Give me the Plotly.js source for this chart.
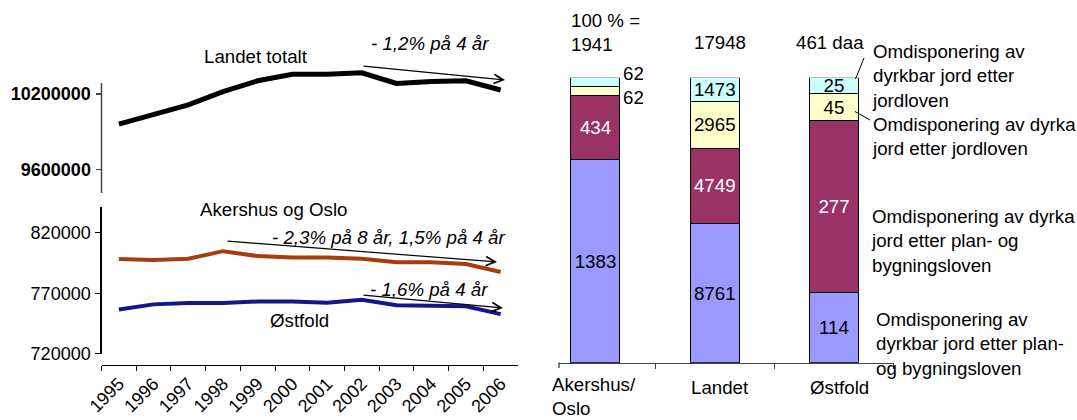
<!DOCTYPE html>
<html><head><meta charset="utf-8">
<script src="https://cdn.plot.ly/plotly-3.0.1.min.js"></script>
<style>html,body{margin:0;padding:0;background:#fff}#chart{width:1077px;height:420px}</style>
</head><body><div id="chart"></div>
<script>
// ---------- data ----------
const years = ['1995','1996','1997','1998','1999','2000','2001','2002','2003','2004','2005','2006'];
const landetTotalt = [9960500,10039500,10113200,10218400,10305300,10357900,10357900,10368400,10284200,10300000,10305300,10231600];
const akershusOslo = [798400,797600,798600,804900,800800,799700,799700,798600,795700,795700,794300,787600];
const ostfold = [756500,760800,761900,761900,763200,763200,762100,764600,760000,759200,759200,752700];
const topTicks = [9600000, 10200000];
const bottomTicks = [720000, 770000, 820000];

const regions = ['Akershus/Oslo','Landet','Østfold'];
const regionLabels = ['Akershus/<br>Oslo','Landet','Østfold'];
const dyrkbarPBL = [1383, 8761, 114];   // bottom, blue
const dyrkaPBL   = [434, 4749, 277];    // purple
const dyrkaJL    = [62, 2965, 45];      // yellow
const dyrkbarJL  = [62, 1473, 25];      // cyan, top
const seriesNames = [
  'Omdisponering av<br>dyrkbar jord etter plan-<br>og bygningsloven',
  'Omdisponering av dyrka<br>jord etter plan- og<br>bygningsloven',
  'Omdisponering av dyrka<br>jord etter jordloven',
  'Omdisponering av<br>dyrkbar jord etter<br>jordloven'
];
const unit = 'daa';

// ---------- helpers ----------
const W = 1077, H = 420;
const px = x => x / W;
const py = y => 1 - y / H;
const FONT = 'Liberation Sans, Arial, Helvetica, sans-serif';
const F = 18;      // tick labels
const FT = 18.7;   // other text

const series = [dyrkbarPBL, dyrkaPBL, dyrkaJL, dyrkbarJL];
const colors = ['#9999FF', '#993366', '#FFFFCC', '#CCFFFF'];
const txtColors = ['#000000', '#FFFFFF', '#000000', '#000000'];
const totals = regions.map((_, i) => series.reduce((s, a) => s + a[i], 0));
const share = (a, i) => a[i] / totals[i] * 100;

const traces = [
  {x: years, y: landetTotalt, type: 'scatter', mode: 'lines', xaxis: 'x', yaxis: 'y',
   line: {color: '#000000', width: 5}, hoverinfo: 'skip'},
  {x: years, y: akershusOslo, type: 'scatter', mode: 'lines', xaxis: 'x2', yaxis: 'y2',
   line: {color: '#A83C0C', width: 4}, hoverinfo: 'skip'},
  {x: years, y: ostfold, type: 'scatter', mode: 'lines', xaxis: 'x2', yaxis: 'y2',
   line: {color: '#16168C', width: 4}, hoverinfo: 'skip'}
];

series.forEach((arr, k) => {
  traces.push({
    x: regions, y: arr, type: 'bar', xaxis: 'x3', yaxis: 'y3',
    marker: {color: colors[k], line: {color: '#000000', width: 1}},
    text: arr.map((v, i) => share(arr, i) > 5 ? String(v) : ''),
    textposition: 'inside', insidetextanchor: 'middle', textangle: 0,
    constraintext: 'none',
    textfont: {family: FONT, size: FT, color: txtColors[k]},
    hoverinfo: 'skip'
  });
});

const annotations = [];
const txt = (text, x, y, opts = {}) => annotations.push(Object.assign({
  text, x: px(x), y: py(y), xref: 'paper', yref: 'paper', showarrow: false,
  font: {family: FONT, size: FT, color: '#000'}, xanchor: 'center', yanchor: 'middle'
}, opts));
const arrow = (x0, y0, x1, y1) => annotations.push({
  text: '', x: px(x1), y: py(y1), xref: 'paper', yref: 'paper',
  ax: x0 - x1, ay: y0 - y1, axref: 'pixel', ayref: 'pixel',
  showarrow: true, arrowhead: 5, arrowsize: 1.5, arrowwidth: 1.2, arrowcolor: '#000', standoff: 0
});
const ital = {font: {family: FONT, size: FT, color: '#000', style: 'italic'}};

// left panel labels
txt('Landet totalt', 256, 57);
txt('- 1,2% på 4 år', 430, 44, ital);
arrow(362, 66, 505, 80);
txt('Akershus og Oslo', 274, 209);
txt('- 2,3% på 8 år, 1,5% på 4 år', 388, 237, ital);
arrow(226, 241, 497, 262);
txt('- 1,6% på 4 år', 429, 289, ital);
arrow(362, 295, 503, 308);
txt('Østfold', 299, 320);

// bar header totals
const headShift = [-26.5, -23, -40];
regions.forEach((r, i) => {
  annotations.push({
    text: (i === 0 ? '100 % =<br>' : '') + totals[i] + (i === regions.length - 1 ? ' ' + unit : ''),
    x: r, xref: 'x3', y: py(i === 0 ? 33 : 43), yref: 'paper',
    xanchor: 'left', yanchor: 'middle', align: 'left', xshift: headShift[i],
    showarrow: false, font: {family: FONT, size: FT, color: '#000'}
  });
});

// small segment labels placed outside right of bar
const smallShift = [0, 0, -6, 9];
regions.forEach((r, i) => {
  let cum = 0;
  series.forEach((arr, k) => {
    const s = share(arr, i);
    if (s <= 5) {
      annotations.push({
        text: String(arr[i]), x: r, xref: 'x3', y: cum + s / 2, yref: 'y3',
        xanchor: 'left', yanchor: 'middle', xshift: 26, yshift: smallShift[k],
        showarrow: false, font: {family: FONT, size: FT, color: '#000'}
      });
    }
    cum += s;
  });
});

// category labels
const catShift = [-45.5, 5.5, 5.5];
regions.forEach((r, i) => {
  annotations.push({
    text: regionLabels[i], x: r, xref: 'x3', y: py(i === 0 ? 396 : 387), yref: 'paper',
    xanchor: i === 0 ? 'left' : 'center', yanchor: 'middle', align: 'left', xshift: catShift[i],
    showarrow: false, font: {family: FONT, size: FT, color: '#000'}
  });
});

// series labels on the right
const legPos = [[874, 343.5], [869, 241.5], [870, 137], [870, 76]];
seriesNames.forEach((n, k) => {
  annotations.push({
    text: n, x: px(legPos[k][0]), y: py(legPos[k][1]), xref: 'paper', yref: 'paper',
    xanchor: 'left', yanchor: 'middle', align: 'left', showarrow: false,
    font: {family: FONT, size: FT, color: '#000'}
  });
});

const shapes = [
  // top panel y-axis line
  {type: 'line', xref: 'paper', yref: 'paper', x0: px(101.5), x1: px(101.5), y0: py(193), y1: py(83),
   line: {color: '#444', width: 1.5}},
  // left end tick of bar axis
  {type: 'line', xref: 'paper', yref: 'paper', x0: px(559), x1: px(559), y0: py(362.7), y1: py(368),
   line: {color: '#000', width: 1}},
  // leader lines
  {type: 'line', xref: 'paper', yref: 'paper', x0: px(855.5), y0: py(79), x1: px(864), y1: py(58),
   line: {color: '#000', width: 1}},
  {type: 'line', xref: 'paper', yref: 'paper', x0: px(855), y0: py(111.5), x1: px(870), y1: py(120),
   line: {color: '#000', width: 1}}
];

const tickFont = {family: FONT, size: F, color: '#000'};
const layout = {
  width: W, height: H,
  margin: {l: 0, r: 0, t: 0, b: 0},
  paper_bgcolor: '#fff', plot_bgcolor: 'rgba(0,0,0,0)',
  showlegend: false,
  barmode: 'stack', barnorm: 'percent', bargap: 0.589,
  font: {family: FONT, size: F, color: '#000'},
  xaxis: {domain: [px(101.5), px(518)], type: 'category', range: [-0.5, 11.5], anchor: 'y',
          visible: false, fixedrange: true},
  yaxis: {domain: [py(193), py(55)], range: [9411200, 10510750], anchor: 'x',
          showline: false, showgrid: false, zeroline: false,
          ticks: 'outside', ticklen: 5, tickcolor: '#444', tickwidth: 1.2,
          tickmode: 'array', tickvals: topTicks, ticktext: topTicks.map(String),
          tickfont: {family: FONT, size: F, color: '#000', weight: 'bold'}, ticklabelstandoff: 1},
  xaxis2: {domain: [px(101.5), px(518)], type: 'category', range: [-0.5, 11.5],
           anchor: 'free', position: py(365),
           showline: true, linecolor: '#000', linewidth: 1.2, showgrid: false, zeroline: false,
           ticks: 'outside', ticklen: 5, tickcolor: '#000', tickson: 'boundaries',
           tickangle: -45, tickfont: tickFont},
  yaxis2: {domain: [py(353.6), py(207)], range: [720000, 841500], anchor: 'x2',
           showline: true, linecolor: '#000', linewidth: 1.2, showgrid: false, zeroline: false,
           ticks: 'outside', ticklen: 5, tickcolor: '#000',
           tickmode: 'array', tickvals: bottomTicks, ticktext: bottomTicks.map(String),
           tickfont: tickFont, ticklabelstandoff: 1},
  xaxis3: {domain: [px(559), px(893.6)], type: 'category', range: [-0.306, 2.5], anchor: 'y3',
           showline: true, linecolor: '#444', linewidth: 1, showgrid: false, zeroline: false,
           ticks: 'outside', ticklen: 5, tickcolor: '#444', tickson: 'boundaries',
           showticklabels: false},
  yaxis3: {domain: [py(362.7), py(77.7)], range: [0, 100], anchor: 'x3', visible: false},
  annotations, shapes
};

Plotly.newPlot('chart', traces, layout, {staticPlot: true, displayModeBar: false});
</script>
</body></html>
